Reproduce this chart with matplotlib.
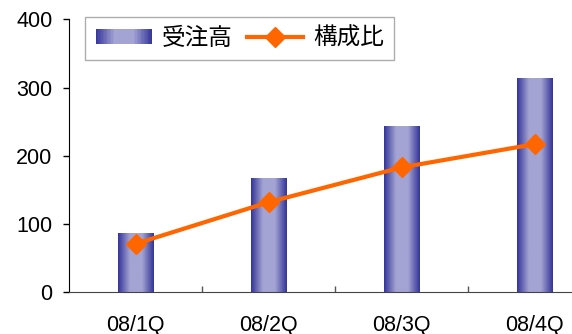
import numpy as np
import matplotlib
matplotlib.use("Agg")
import matplotlib.pyplot as plt
from matplotlib.patches import Rectangle
from matplotlib.lines import Line2D
from matplotlib.legend_handler import HandlerBase
from matplotlib.colors import LinearSegmentedColormap

plt.rcParams['font.family'] = ['Liberation Sans', 'Noto Sans CJK JP']

# quarterly orders and composition ratio
quarters = ["08/1Q", "08/2Q", "08/3Q", "08/4Q"]
orders = [87, 168, 243, 314]
ratio = [71, 132, 183, 217]
bar_label = "受注高"
line_label = "構成比"

edge_blue = "#333399"
light_blue = "#a4a4d4"
orange = "#ff6600"
grad = LinearSegmentedColormap.from_list(
    "bar", [edge_blue, light_blue, light_blue, edge_blue], N=256)


class GradientHandler(HandlerBase):
    """Legend key drawn as a strip of thin rectangles."""

    def create_artists(self, legend, orig_handle, xdescent, ydescent,
                       width, height, fontsize, trans):
        n = 40
        out = []
        for i in range(n):
            c = grad((i + 0.5) / n)
            r = Rectangle((-xdescent + width * i / n, -ydescent), width / n * 1.05,
                          height, facecolor=c, edgecolor="none", transform=trans)
            out.append(r)
        return out


W, H = 572, 334
fig = plt.figure(figsize=(W / 100, H / 100), dpi=100)
ax = fig.add_axes([69 / W, (H - 292.3) / H, 532 / W, 273 / H])

x = np.arange(len(quarters))
bars = ax.bar(x, orders, width=0.265, facecolor="none", edgecolor="none")
g = np.linspace(0, 1, 256).reshape(1, -1)
for b in bars:
    x0, y0 = b.get_x(), b.get_y()
    im = ax.imshow(g, cmap=grad, aspect="auto", interpolation="bilinear",
                   extent=(x0, x0 + b.get_width(), y0, y0 + b.get_height()),
                   zorder=2)
    im.set_clip_path(b)

ax.plot(x, ratio, color=orange, lw=3, marker="D", ms=10, zorder=3)

ax.set_xlim(-0.5, 3.5)
ax.set_ylim(0, 400)
ax.set_yticks(range(0, 401, 100))
ax.set_xticks(x)
ax.set_xticklabels(quarters)
ax.set_xticks([0.5, 1.5, 2.5], minor=True)
ax.tick_params(axis="x", which="major", length=0, pad=16, labelsize=15.5)
ax.tick_params(axis="x", which="minor", direction="in", length=4, width=1, color="#555555")
ax.tick_params(axis="y", direction="out", length=4, width=1, pad=8, labelsize=15.5)
for s in ("top", "right"):
    ax.spines[s].set_visible(False)
ax.spines["bottom"].set_color("#444444")
ax.spines["left"].set_color("black")

key_bar = Rectangle((0, 0), 1, 1)
key_line = Line2D([], [], color=orange, lw=3, marker="D", ms=10)
leg = fig.legend([key_bar, key_line], [bar_label, line_label], ncol=2,
                 loc="upper left", bbox_to_anchor=(85 / W, 1 - 17 / H),
                 handler_map={Rectangle: GradientHandler()},
                 fontsize=17, frameon=True, fancybox=False,
                 handlelength=2.4, handleheight=0.6, handletextpad=0.4,
                 columnspacing=0.6, borderpad=0.45, borderaxespad=0)
leg.get_frame().set_edgecolor("#999999")
leg.get_frame().set_linewidth(1)

fig.savefig("out.png", dpi=100)
